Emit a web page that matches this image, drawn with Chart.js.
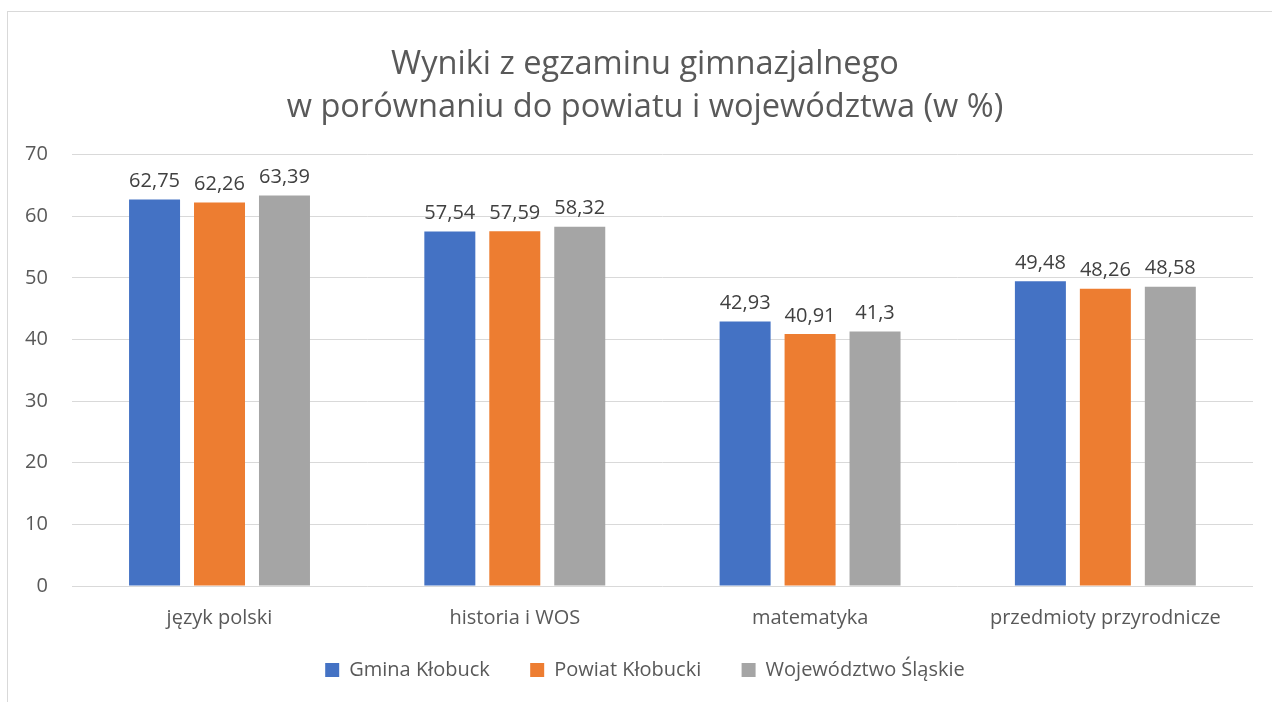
<!DOCTYPE html>
<html>
<head>
<meta charset="utf-8">
<script src="https://cdn.jsdelivr.net/npm/chart.js@4"></script>
<style>
  html, body { margin: 0; padding: 0; background: #fff; }
  #wrap { position: relative; width: 1272px; height: 702px; overflow: hidden; }
  #frame { position: absolute; left: 7px; top: 11px; width: 1300px; height: 720px; border: 1px solid #d9d9d9; box-sizing: border-box; }
  canvas { position: absolute; left: 0; top: 0; }
</style>
</head>
<body>
<div id="wrap">
  <div id="frame"></div>
  <canvas id="chart" width="1272" height="702"></canvas>
</div>
<script>
const categories = ['język polski', 'historia i WOS', 'matematyka', 'przedmioty przyrodnicze'];
const gmina = [62.75, 57.54, 42.93, 49.48];
const powiat = [62.26, 57.59, 40.91, 48.26];
const wojewodztwo = [63.39, 58.32, 41.3, 48.58];
const seriesNames = ['Gmina Kłobuck', 'Powiat Kłobucki', 'Województwo Śląskie'];
const colors = ['#4472c4', '#ed7d31', '#a5a5a5'];

const FONT = '"Open Sans", sans-serif';

// value labels above each bar, using the bar elements from chart.js
const barLabels = {
    id: 'barLabels',
    afterDatasetsDraw(chart) {
        const ctx = chart.ctx;
        ctx.save();
        ctx.font = '20px ' + FONT;
        ctx.fillStyle = '#404040';
        ctx.textAlign = 'center';
        ctx.textBaseline = 'middle';
        chart.data.datasets.forEach((ds, i) => {
            chart.getDatasetMeta(i).data.forEach((bar, j) => {
                const txt = String(ds.data[j]).replace('.', ',');
                ctx.fillText(txt, bar.x, bar.y - 18);
            });
        });
        ctx.restore();
    }
};

// title and legend sit a bit right of the plot centre in the original
const nudge = {
    id: 'nudge',
    afterLayout(chart) {
        chart.titleBlock.left += 18;
        chart.titleBlock.right += 18;
        chart.legend.left += 18;
        chart.legend.right += 18;
    }
};

const datasets = [gmina, powiat, wojewodztwo].map((d, i) => ({
    label: seriesNames[i],
    data: d,
    backgroundColor: colors[i],
    categoryPercentage: 0.66,
    barPercentage: 0.785
}));

new Chart(document.getElementById('chart').getContext('2d'), {
    type: 'bar',
    data: { labels: categories, datasets: datasets },
    options: {
        responsive: false,
        animation: false,
        layout: { padding: { left: 1, right: 19, top: 0, bottom: 12 } },
        plugins: {
            title: {
                display: true,
                text: ['Wyniki z egzaminu gimnazjalnego', 'w porównaniu do powiatu i województwa (w %)'],
                color: '#595959',
                font: { family: FONT, size: 32.6, weight: 'normal', lineHeight: 1.3 },
                padding: { top: 44, bottom: 26 }
            },
            legend: {
                position: 'bottom',
                labels: {
                    color: '#595959',
                    font: { family: FONT, size: 20 },
                    boxWidth: 14,
                    boxHeight: 14,
                    padding: 30,
                    generateLabels(chart) {
                        const items = Chart.defaults.plugins.legend.labels.generateLabels(chart);
                        items.forEach((it, i) => {
                            if (i < items.length - 1) it.text += '\u00a0\u00a0';
                        });
                        return items;
                    }
                }
            },
            tooltip: { enabled: false }
        },
        scales: {
            x: {
                grid: { display: false, drawTicks: false },
                border: { display: false },
                ticks: { color: '#595959', font: { family: FONT, size: 20 }, padding: 20 },
                afterFit(scale) { scale.height -= 20; }
            },
            y: {
                min: 0,
                max: 70,
                ticks: { stepSize: 10, color: '#595959', font: { family: FONT, size: 20 }, padding: 24 },
                grid: { color: '#d9d9d9', drawTicks: false },
                border: { display: false }
            }
        }
    },
    plugins: [barLabels, nudge]
});
</script>
</body>
</html>
